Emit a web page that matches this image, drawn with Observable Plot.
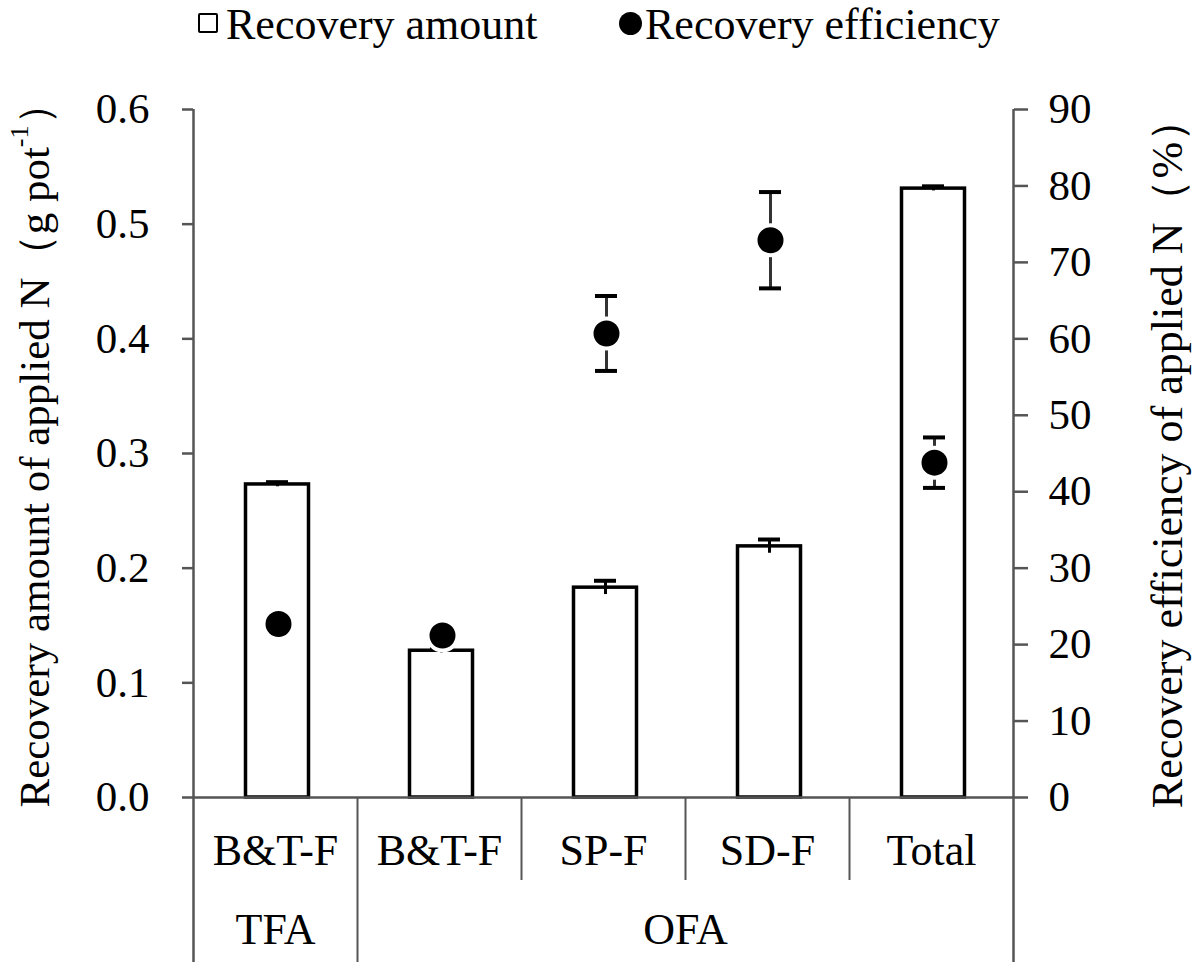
<!DOCTYPE html>
<html>
<head>
<meta charset="utf-8">
<script src="https://cdn.jsdelivr.net/npm/d3@7"></script>
<script src="https://cdn.jsdelivr.net/npm/@observablehq/plot@0.6"></script>
<style>
  body { margin: 0; background: #fff; font-family: "Liberation Serif", "Times New Roman", Tinos, "DejaVu Serif", serif; }
  #wrap { position: relative; width: 1200px; height: 967px; background: #fff; }
  #legend { position: relative; width: 1200px; height: 50px; font-size: 44px; line-height: 50px; color: #000; }
  #legend .sq { position: absolute; left: 198px; top: 13px; width: 16px; height: 16px; border: 2.5px solid #000; border-radius: 2px; background: #fff; }
  #legend .ci { position: absolute; left: 619px; top: 12px; width: 23px; height: 23px; border-radius: 50%; background: #000; }
  #legend .t1 { position: absolute; left: 226px; top: 0; white-space: nowrap; }
  #legend .t2 { position: absolute; left: 645px; top: 0; white-space: nowrap; }
  #chart svg { display: block; }
  #chart svg text { font-family: "Liberation Serif", "Times New Roman", Tinos, "DejaVu Serif", serif !important; }
</style>
</head>
<body>
<div id="wrap">
  <div id="legend">
    <span class="sq"></span><span class="t1">Recovery amount</span>
    <span class="ci"></span><span class="t2">Recovery efficiency</span>
  </div>
  <div id="chart"></div>
</div>
<script>
// ---- data ----
const categories    = ["B&T-F", "B&T-F", "SP-F", "SD-F", "Total"];
const groups        = ["TFA", "OFA", "OFA", "OFA", "OFA"];
const amount        = [0.273, 0.128, 0.183, 0.219, 0.531];   // g pot-1 (left axis)
const amountErr     = [0.002, 0.002, 0.006, 0.006, 0.002];
const efficiency    = [22.7, 21.2, 60.7, 72.9, 43.8];        // % (right axis)
const efficiencyErr = [1.0, 1.0, 4.9, 6.3, 3.3];
const leftTicks     = [0, 0.1, 0.2, 0.3, 0.4, 0.5, 0.6];
const rightTicks    = [0, 10, 20, 30, 40, 50, 60, 70, 80, 90];

// right axis 0–90 shares the left axis 0–0.6 frame
const K = rightTicks[rightTicks.length - 1] / leftTicks[leftTicks.length - 1];

const rows = categories.map((c, i) => ({
  i, c, g: groups[i],
  a: amount[i], ae: amountErr[i],
  e: efficiency[i] / K, ee: efficiencyErr[i] / K
}));

// group spans for second row of x labels
const groupSpans = [];
groups.forEach((g, i) => {
  const last = groupSpans[groupSpans.length - 1];
  if (last && last.g === g) last.end = i + 1;
  else groupSpans.push({ g, start: i, end: i + 1 });
});
const longSeps = [], shortSeps = [];
for (let b = 1; b < categories.length; b++) {
  (groups[b] !== groups[b - 1] ? longSeps : shortSeps).push(b);
}

const FONT = '"Liberation Serif", "Times New Roman", Tinos, "DejaVu Serif", serif';
const W = 1200, H = 917, MT = 59, MB = 170, ML = 193, MR = 187;
const axisGray = "#555";

const plot = Plot.plot({
  width: W, height: H,
  marginTop: MT, marginBottom: MB, marginLeft: ML, marginRight: MR,
  style: { fontFamily: FONT, fontSize: "42px", background: "white", color: "black" },
  x: { domain: [0, categories.length], axis: null },
  y: { domain: [leftTicks[0], leftTicks[leftTicks.length - 1]], axis: null },
  marks: [
    // bars
    Plot.rectY(rows, { x1: d => d.i, x2: d => d.i + 1, y1: 0, y2: "a",
      fill: "white", stroke: "black", strokeWidth: 3.5, insetLeft: 52.5, insetRight: 48.5 }),
    // bar error bars
    Plot.ruleX(rows, { x: d => d.i + 0.5, y1: d => d.a - d.ae, y2: d => d.a + d.ae,
      stroke: "black", strokeWidth: 3, dx: 2 }),
    Plot.ruleY(rows, { y: d => d.a + d.ae, x1: d => d.i + 0.5, x2: d => d.i + 0.5,
      insetLeft: -11, insetRight: -11, stroke: "black", strokeWidth: 4, dx: 2 }),
    // efficiency error bars
    Plot.ruleX(rows, { x: d => d.i + 0.5, y1: d => d.e - d.ee, y2: d => d.e + d.ee,
      stroke: "#333", strokeWidth: 3, dx: 3 }),
    Plot.ruleY(rows, { y: d => d.e + d.ee, x1: d => d.i + 0.5, x2: d => d.i + 0.5,
      insetLeft: -11, insetRight: -11, stroke: "black", strokeWidth: 4, dx: 3 }),
    Plot.ruleY(rows, { y: d => d.e - d.ee, x1: d => d.i + 0.5, x2: d => d.i + 0.5,
      insetLeft: -11, insetRight: -11, stroke: "black", strokeWidth: 4, dx: 3 }),
    // efficiency dots
    Plot.dot(rows, { x: d => d.i + 0.5, y: "e", r: 15, fill: "black",
      stroke: "white", strokeWidth: 4, dx: 3 }),
    // frame lines
    Plot.ruleY([0], { stroke: axisGray, strokeWidth: 2.5 }),
    Plot.ruleX([0, categories.length], { stroke: axisGray, strokeWidth: 2.5, insetBottom: -165 }),
    Plot.ruleX(longSeps, { y1: 0, y2: 0, insetBottom: -165, stroke: axisGray, strokeWidth: 2 }),
    Plot.ruleX(shortSeps, { y1: 0, y2: 0, insetBottom: -83, stroke: axisGray, strokeWidth: 2 }),
    // axes
    Plot.axisY(leftTicks, { anchor: "left", tickSize: 11, tickPadding: 33,
      tickFormat: d3.format(".1f"), stroke: axisGray, strokeWidth: 2.5, fill: "black",
      fontSize: 43, label: null }),
    Plot.axisY(rightTicks.map(v => v / K), { anchor: "right", tickSize: 14, tickPadding: 21,
      tickFormat: d => String(Math.round(d * K)), stroke: axisGray, strokeWidth: 2.5, fill: "black",
      fontSize: 43, label: null }),
    // x labels (two rows)
    Plot.text(rows, { x: d => d.i + 0.5, y: 0, text: "c", dy: 53, fontSize: 44, fill: "black" }),
    Plot.text(groupSpans, { x: d => (d.start + d.end) / 2, y: 0, text: "g", dy: 132, fontSize: 44, fill: "black" })
  ]
});

document.getElementById("chart").appendChild(plot);

// axis titles (with superscript)
const svg = d3.select(plot);
const midY = (MT + (H - MB)) / 2;
const lt = svg.append("text")
  .attr("transform", `translate(34,${midY - 8}) rotate(-90)`)
  .attr("text-anchor", "middle").attr("dominant-baseline", "central")
  .attr("font-size", 43).attr("fill", "black");
lt.append("tspan").text("Recovery amount of applied N（g pot");
lt.append("tspan").attr("font-size", 26).attr("dy", -15).text("-1");
lt.append("tspan").attr("dy", 15).text("）");

svg.append("text")
  .attr("transform", `translate(1167,${midY}) rotate(-90)`)
  .attr("text-anchor", "middle").attr("dominant-baseline", "central")
  .attr("font-size", 44).attr("fill", "black")
  .text("Recovery efficiency of applied N（%）");
</script>
</body>
</html>
